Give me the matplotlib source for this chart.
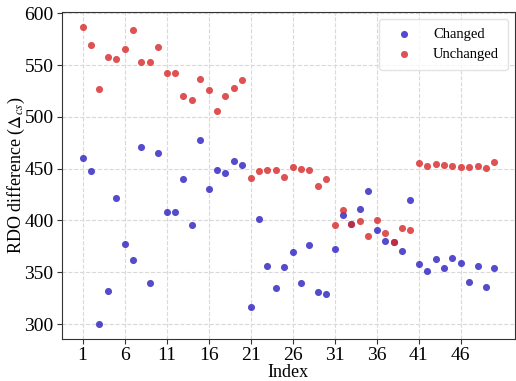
import numpy as np
import matplotlib
matplotlib.use("Agg")
import matplotlib.pyplot as plt

# values (index 1..50)
index = np.arange(1, 51)
changed = [459.9, 448.1, 299.8, 331.6, 421.4, 377.0, 361.6, 470.6, 340.0, 465.1,
           407.9, 407.9, 440.1, 396.0, 477.7, 430.0, 448.7, 445.5, 457.4, 453.2,
           316.6, 401.5, 356.1, 335.0, 354.8, 369.3, 339.8, 376.7, 330.7, 328.8,
           372.5, 405.0, 396.9, 411.1, 428.8, 390.9, 380.5, 379.6, 370.9, 419.4,
           358.4, 350.9, 363.2, 353.6, 363.5, 359.0, 340.7, 355.7, 335.5, 353.7]
unchanged = [587.0, 568.9, 527.2, 557.4, 555.8, 565.1, 583.4, 553.2, 552.9, 567.4,
             542.6, 542.6, 520.1, 516.6, 536.8, 525.5, 505.7, 519.7, 527.5, 535.2,
             441.3, 447.8, 449.0, 448.4, 442.0, 451.6, 450.0, 448.4, 433.3, 440.4,
             395.3, 409.8, 396.9, 399.2, 385.1, 400.8, 388.0, 379.6, 393.1, 391.2,
             455.8, 452.2, 454.5, 453.2, 452.2, 451.3, 451.9, 452.9, 450.3, 456.5]
xticks = list(range(1, 51, 5))

plt.rcParams['font.family'] = ['Liberation Serif', 'DejaVu Serif']
plt.rcParams['mathtext.fontset'] = 'stix'

fig = plt.figure(figsize=(5.16, 3.81), dpi=100)
ax = fig.add_axes([0.120, 0.110, 0.878, 0.859])

ax.scatter(index, changed, s=26, color='#2a1fc0', alpha=0.8, label='Changed',
           linewidths=0, zorder=3)
ax.scatter(index, unchanged, s=26, color='#d62728', alpha=0.8, label='Unchanged',
           linewidths=0, zorder=3)

ax.set_xticks(xticks)
ax.set_yticks([300, 350, 400, 450, 500, 550, 600])
ax.tick_params(labelsize=14, length=3.5, color='#333333', pad=2.5)
ax.grid(True, linestyle='--', color='#d9d9d9', linewidth=0.8)
ax.set_axisbelow(True)
for sp in ax.spines.values():
    sp.set_color('#333333')

ax.set_xlabel('Index', fontsize=13, labelpad=0)
ax.set_ylabel(r'RDO difference ($\Delta_{cs}$)', fontsize=13, labelpad=-2)

ax.legend(loc='upper right', fontsize=10.5, frameon=True, framealpha=0.8,
          edgecolor='#dddddd', borderpad=0.6, handletextpad=0.9,
          labelspacing=0.45, handlelength=2.2)

fig.savefig('out.png', dpi=100)
